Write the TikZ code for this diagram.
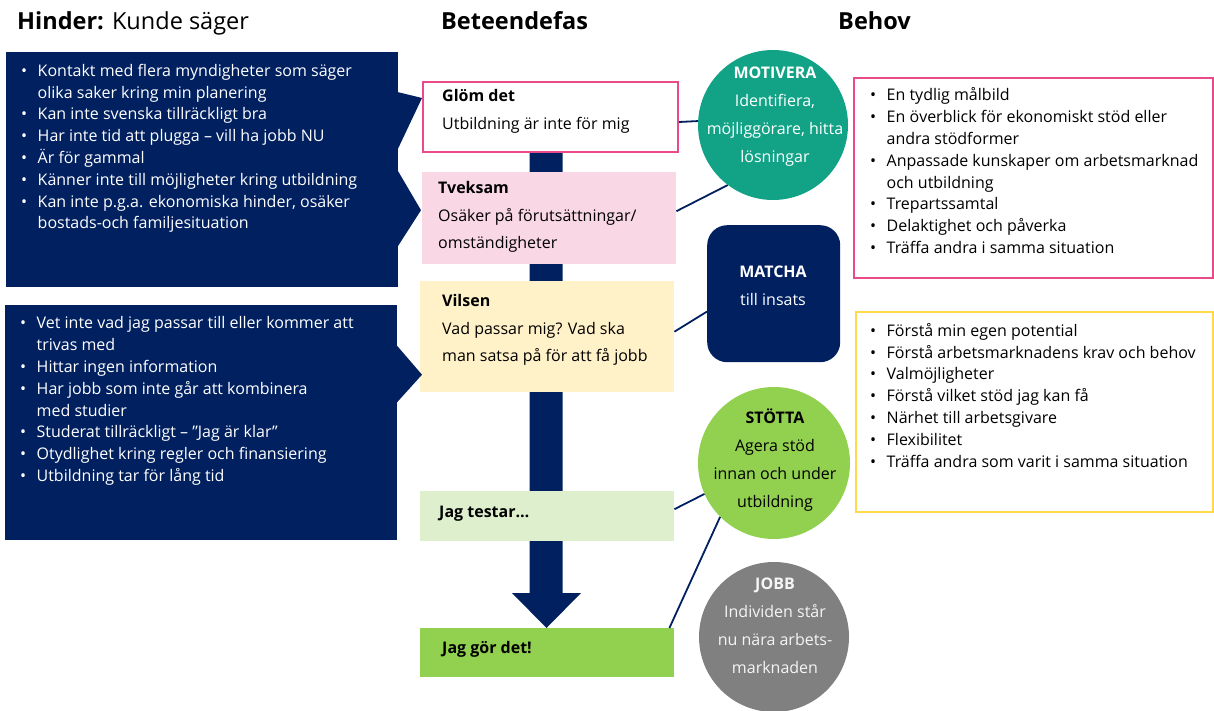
\documentclass[tikz,border=0pt]{standalone}
\usepackage{fontspec}
\setmainfont{Open Sans}
\usetikzlibrary{calc}

\definecolor{navy}{HTML}{002060}
\definecolor{rosa}{HTML}{E94B8A}
\definecolor{ljusrosa}{HTML}{F9D7E5}
\definecolor{ljusgul}{HTML}{FFF2C8}
\definecolor{ljusgron}{HTML}{DEEFCE}
\definecolor{gron}{HTML}{92D050}
\definecolor{turkos}{HTML}{12A387}
\definecolor{gra}{HTML}{808080}
\definecolor{gul}{HTML}{FFD94A}

\newcommand\pkt{\makebox[16.5pt][l]{\textbullet}}
\newcommand\ind{\hspace*{16.5pt}}

\begin{document}
\begin{tikzpicture}[x=1pt,y=-1pt,
  ruta/.style={inner sep=0pt, anchor=north west, draw=none},
  rund/.style={circle, inner sep=0pt, draw=none},
  lista/.style={inner sep=0pt, align=left, anchor=base west, font=\fontsize{16}{21.8}\selectfont},
  fastxt/.style={inner sep=0pt, align=left, anchor=base west, font=\fontsize{16}{27.5}\selectfont},
  rundtxt/.style={inner sep=0pt, align=center, anchor=base, font=\fontsize{16}{28}\selectfont},
  rubrik/.style={inner sep=0pt, anchor=base west, font=\fontsize{23.5}{28}\selectfont},
  link/.style={navy, line width=1.8pt}]
\useasboundingbox (0,0) rectangle (1214,711);

% rubriker
\node[rubrik] (hinderT) at (17,30) {\textbf{Hinder:} Kunde säger};
\node[rubrik] (fasT) at (441,30) {\textbf{Beteendefas}};
\node[rubrik] (behovT) at (838,30) {\textbf{Behov}};

% pilen genom faserna
\fill[navy] (529.5,150) -- (562.5,150) -- (562.5,593) -- (581,593) -- (546.5,628)
  -- (512,593) -- (529.5,593) -- cycle;

% faser
\node[ruta, fill=white, draw=rosa, line width=2pt, minimum width=255pt, minimum height=70pt] (glom) at (422,81) {};
\node[ruta, fill=ljusrosa, minimum width=254pt, minimum height=92pt] (tveks) at (422,172) {};
\node[ruta, fill=ljusgul, minimum width=254pt, minimum height=111pt] (vilsen) at (420,281) {};
\node[ruta, fill=ljusgron, minimum width=254pt, minimum height=50pt] (testar) at (420,491) {};
\node[ruta, fill=gron, minimum width=254pt, minimum height=49pt] (gor) at (420,628) {};

% (ankare base = sista radens baslinje)
\node[fastxt] (glomT) at (442,129.5) {\textbf{Glöm det}\\Utbildning är inte för mig};
\node[fastxt] (tveksT) at (438,248.5) {\textbf{Tveksam}\\Osäker på förutsättningar/\\omständigheter};
\node[fastxt] (vilsenT) at (442,361.5) {\textbf{Vilsen}\\Vad passar mig? Vad ska\\man satsa på för att få jobb};
\node[fastxt] (testarT) at (439,517.5) {\textbf{Jag testar…}};
\node[fastxt] (gorT) at (442,653.5) {\textbf{Jag gör det!}};

% hinder
\node[ruta, fill=navy, minimum width=392pt, minimum height=235pt] (hinderA) at (6,52) {};
\node[ruta, fill=navy, minimum width=392pt, minimum height=235pt] (hinderB) at (5,305) {};
\fill[navy] ($(hinderA.north east)+(-1,40)$) -- ($(glom.west)+(0,-19)$) -- ($(hinderA.north east)+(-1,98)$) -- cycle;
\fill[navy] ($(hinderA.north east)+(-1,118)$) -- ($(tveks.west)+(-1,-8)$) -- ($(hinderA.north east)+(-1,195)$) -- cycle;
\fill[navy] ($(hinderB.north east)+(-1,40)$) -- ($(vilsen.west)+(2,38)$) -- ($(hinderB.north east)+(-1,98)$) -- cycle;

\node[lista, text=white] (hinderAT) at (21,229) {\pkt Kontakt med flera myndigheter som säger\\
  \ind olika saker kring min planering\\
  \pkt Kan inte svenska tillräckligt bra\\
  \pkt Har inte tid att plugga – vill ha jobb NU\\
  \pkt Är för gammal\\
  \pkt Känner inte till möjligheter kring utbildning\\
  \pkt Kan inte p.g.a. ekonomiska hinder, osäker\\
  \ind bostads-och familjesituation};
\node[lista, text=white] (hinderBT) at (20,481.5) {\pkt Vet inte vad jag passar till eller kommer att\\
  \ind trivas med\\
  \pkt Hittar ingen information\\
  \pkt Har jobb som inte går att kombinera\\
  \ind med studier\\
  \pkt Studerat tillräckligt – ”Jag är klar”\\
  \pkt Otydlighet kring regler och finansiering\\
  \pkt Utbildning tar för lång tid};

% insatser
\node[rund, fill=turkos, minimum size=150pt] (motivera) at (773,125) {};
\node[ruta, fill=navy, rounded corners=20pt, minimum width=133pt, minimum height=137pt] (matcha) at (707,225) {};
\node[rund, fill=gron, minimum size=152pt] (stotta) at (774,463) {};
\node[rund, fill=gra, minimum size=150pt] (jobb) at (774,637) {};

\node[rundtxt, text=white] (motiveraT) at (775,162.5) {\textbf{MOTIVERA}\\Identifiera,\\möjliggörare, hitta\\lösningar};
\node[rundtxt, text=white] (matchaT) at (773,305.5) {\textbf{MATCHA}\\till insats};
\node[rundtxt, text=black] (stottaT) at (775,507.5) {\textbf{STÖTTA}\\Agera stöd\\innan och under\\utbildning};
\node[rundtxt, text=white!92!gra] (jobbT) at (775,673.5) {\textbf{JOBB}\\Individen står\\nu nära arbets-\\marknaden};

% kopplingar
\draw[link] ($(glom.east)+(0,5)$) -- (motivera.177);
\draw[link] ($(tveks.east)+(0,-7)$) -- (motivera.233);
\draw[link] ($(vilsen.east)+(0,-5)$) -- (matcha.195);
\draw[link] ($(testar.east)+(0,-7)$) -- (stotta.204);
\draw[link] ($(gor.north east)+(-5,0)$) -- (stotta.225);

% behov
\node[ruta, draw=rosa, line width=2pt, minimum width=359pt, minimum height=200pt] (behovA) at (853,77) {};
\node[ruta, draw=gul, line width=2pt, minimum width=357pt, minimum height=200pt] (behovB) at (855,311) {};

\node[lista] (behovAT) at (870,253.5) {\pkt En tydlig målbild\\
  \pkt En överblick för ekonomiskt stöd eller\\
  \ind andra stödformer\\
  \pkt Anpassade kunskaper om arbetsmarknad\\
  \ind och utbildning\\
  \pkt Trepartssamtal\\
  \pkt Delaktighet och påverka\\
  \pkt Träffa andra i samma situation};
\node[lista] (behovBT) at (870,467) {\pkt Förstå min egen potential\\
  \pkt Förstå arbetsmarknadens krav och behov\\
  \pkt Valmöjligheter\\
  \pkt Förstå vilket stöd jag kan få\\
  \pkt Närhet till arbetsgivare\\
  \pkt Flexibilitet\\
  \pkt Träffa andra som varit i samma situation};
\end{tikzpicture}
\end{document}
